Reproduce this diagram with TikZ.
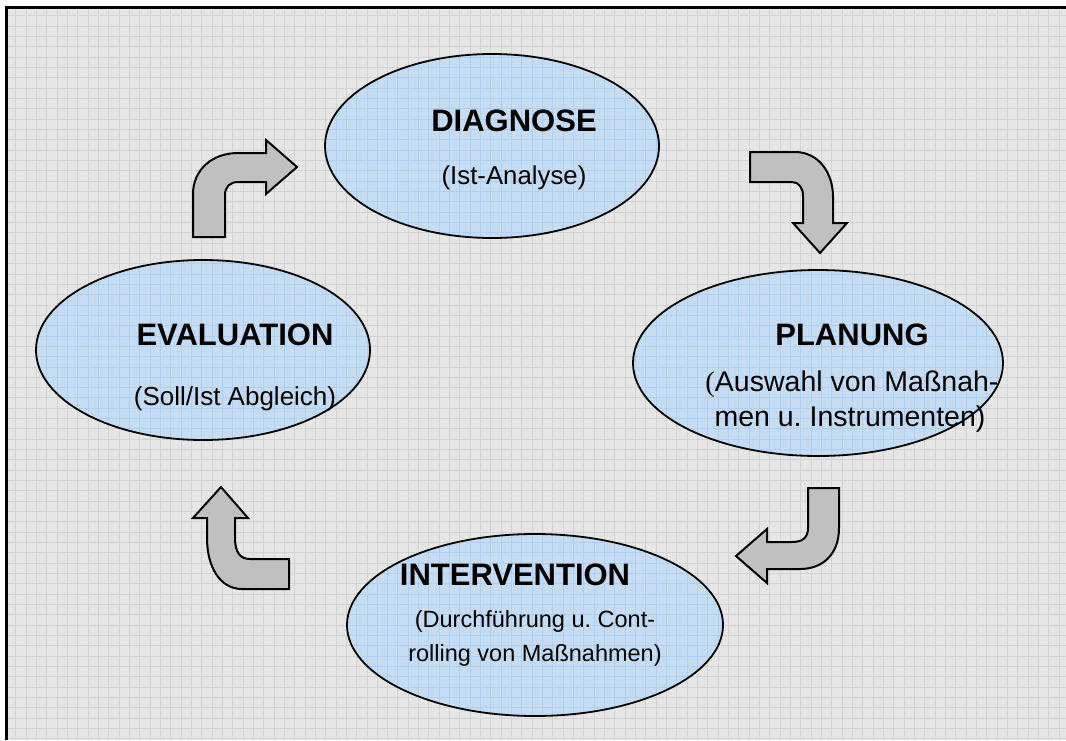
\documentclass[tikz,border=0pt]{standalone}
\usepackage{fontspec}
\setmainfont{Liberation Sans}
\newfontfamily\parenfont{Liberation Serif}
\frenchspacing
\definecolor{bggray}{RGB}{230,230,230}
\definecolor{gridgray}{RGB}{212,212,212}
\definecolor{ellfill}{RGB}{197,220,243}
\definecolor{ellgrid}{RGB}{172,208,246}
\definecolor{arrowgray}{RGB}{192,192,192}
\tikzset{
  gridline/.style={draw=gridgray, line width=0.9pt},
  bluegridline/.style={draw=ellgrid, line width=0.9pt},
  ellout/.style={draw=black, line width=1.8pt},
  blockarrow/.style={fill=arrowgray, draw=black, line width=2pt, line join=miter},
  titletext/.style={font=\bfseries\fontsize{31}{36}\selectfont, inner sep=0pt, anchor=base},
  subtext/.style={inner sep=0pt, anchor=base}
}
\begin{document}
\begin{tikzpicture}[x=1pt,y=-1pt]
\useasboundingbox (0,0) rectangle (1066,740);
\fill[white] (0,0) rectangle (1066,740);
\fill[bggray] (6,7) rectangle (1066,740);
% background grid
\foreach \i in {1,...,102} \draw[gridline] ({5.4+\i*10.33},7) -- ({5.4+\i*10.33},740);
\foreach \j in {1,...,71} \draw[gridline] (6,{5.4+\j*10.33}) -- (1066,{5.4+\j*10.33});
% frame
\draw[line width=2.2pt] (6.5,740) -- (6.5,7.5) -- (1066,7.5);
% ellipse centres
\coordinate (dC) at (492,146);
\coordinate (eC) at (203,350);
\coordinate (pC) at (818,363);
\coordinate (iC) at (535,625);
% ellipse fills with blue grid
\begin{scope}
  \clip (dC) ellipse [x radius=167, y radius=92]
        (eC) ellipse [x radius=167, y radius=90]
        (pC) ellipse [x radius=185, y radius=93]
        (iC) ellipse [x radius=188, y radius=91];
  \fill[ellfill] (0,0) rectangle (1066,740);
  \foreach \i in {1,...,102} \draw[bluegridline] ({5.4+\i*10.33},7) -- ({5.4+\i*10.33},740);
  \foreach \j in {1,...,71} \draw[bluegridline] (6,{5.4+\j*10.33}) -- (1066,{5.4+\j*10.33});
\end{scope}
\draw[ellout] (dC) ellipse [x radius=167, y radius=92];
\draw[ellout] (eC) ellipse [x radius=167, y radius=90];
\draw[ellout] (pC) ellipse [x radius=185, y radius=93];
\draw[ellout] (iC) ellipse [x radius=188, y radius=91];
% texts
\node[titletext] (dT) at (514,131) {DIAGNOSE};
\node[subtext, font=\fontsize{25.8}{30}\selectfont] (dS) at (514,184) {(Ist-Analyse)};
\node[titletext] (eT) at (235,345) {EVALUATION};
\node[subtext, font=\fontsize{26}{30}\selectfont] (eS) at (235,405) {(Soll/Ist Abgleich)};
\node[titletext] (pT) at (852,345) {PLANUNG};
\node[subtext, font=\fontsize{28.5}{34}\selectfont] (pS1) at (852,391) {{\parenfont(}Auswahl von Maßnah-};
\node[subtext, font=\fontsize{28.5}{34}\selectfont] (pS2) at (850,426) {men u. Instrumenten)};
\node[titletext] (iT) at (515,585) {INTERVENTION};
\node[subtext, font=\fontsize{23.5}{28}\selectfont] (iS1) at (535,627) {(Durchführung u. Cont-};
\node[subtext, font=\fontsize{23.5}{28}\selectfont] (iS2) at (535,661) {rolling von Maßnahmen)};
% block arrows
\draw[blockarrow] (193,237) -- (193,194) .. controls (193,170) and (212,153) .. (238,153)
  -- (266,153) -- (266,140) -- (297,167) -- (266,194) -- (266,182) -- (238,182)
  .. controls (230,182) and (225,187) .. (225,195) -- (225,237) -- cycle;
\draw[blockarrow] (750,152) -- (795,152) .. controls (818,152) and (833,172) .. (833,197)
  -- (833,223) -- (847,223) -- (820,253) -- (793,223) -- (803,223) -- (803,196)
  .. controls (803,188) and (799,182) .. (792,182) -- (750,182) -- cycle;
\draw[blockarrow] (808,488) -- (839,488) -- (839,528) .. controls (839,555) and (822,569) .. (800,569)
  -- (767,569) -- (767,583) -- (736,556) -- (767,529) -- (767,542) -- (792,542)
  .. controls (802,542) and (808,538) .. (808,528) -- cycle;
\draw[blockarrow] (289,559) -- (289,589) -- (242,589) .. controls (220,589) and (207,567) .. (207,538)
  -- (207,518) -- (193,518) -- (221,487) -- (248,518) -- (235,518) -- (235,538)
  .. controls (235,552) and (240,559) .. (250,559) -- cycle;
\end{tikzpicture}
\end{document}
